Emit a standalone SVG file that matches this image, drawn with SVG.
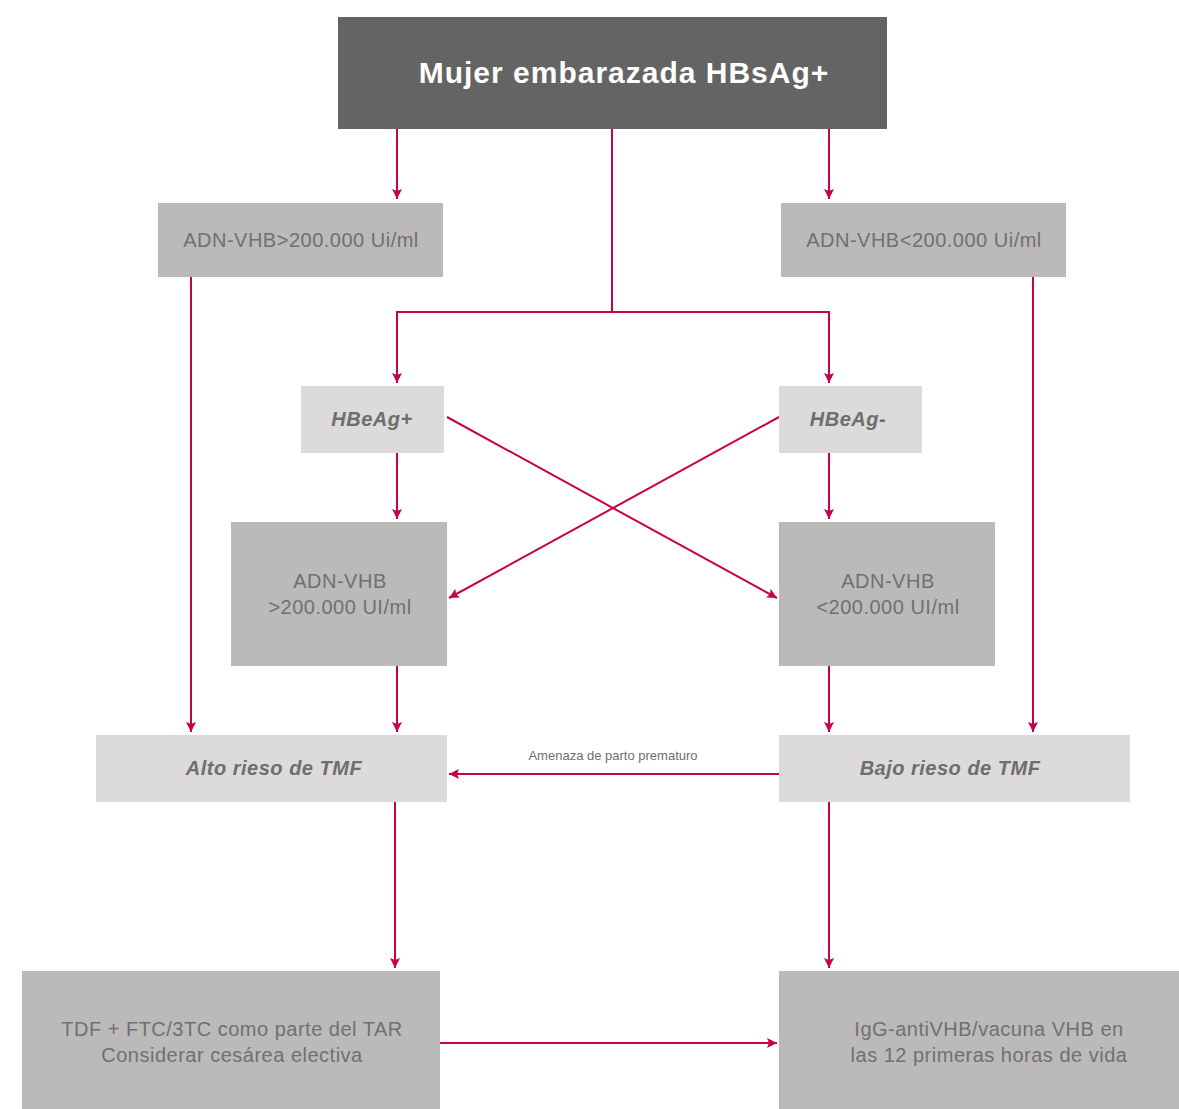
<svg xmlns="http://www.w3.org/2000/svg" width="1179" height="1109" viewBox="0 0 1179 1109">
<defs>
<marker id="ah" markerWidth="10" markerHeight="10" viewBox="0 0 10 10" refX="10" refY="5" orient="auto" markerUnits="userSpaceOnUse">
<path d="M0,0 L10,5 L0,10 L2,5 Z" fill="#c8004b"/>
</marker>
<style>
.dark{fill:#646464}
.mid{fill:#bbbab9}
.light{fill:#dcdadb}
text{font-family:"Liberation Sans",Arial,sans-serif;text-anchor:middle}
.t{fill:#707070;font-size:20px;letter-spacing:0.5px}
.ti{fill:#6e6e6e;font-size:20px;font-weight:bold;font-style:italic;letter-spacing:0.5px}
.title{fill:#ffffff;font-size:30px;font-weight:bold;letter-spacing:1px}
.lbl{fill:#6e6e6e;font-size:13px}
.c{fill:none;stroke:#c8004b;stroke-width:2}
</style>
</defs>
<rect width="1179" height="1109" fill="#ffffff"/>
<g id="connectors">
<path class="c" d="M397,129 V199" marker-end="url(#ah)"/>
<path class="c" d="M829,129 V199" marker-end="url(#ah)"/>
<path class="c" d="M612,129 V312 H397 V383" marker-end="url(#ah)"/>
<path class="c" d="M612,312 H829 V383" marker-end="url(#ah)"/>
<path class="c" d="M397,453 V519" marker-end="url(#ah)"/>
<path class="c" d="M829,453 V519" marker-end="url(#ah)"/>
<path class="c" d="M447,417 L777,598" marker-end="url(#ah)"/>
<path class="c" d="M779,417 L449,598" marker-end="url(#ah)"/>
<path class="c" d="M191,277 V732" marker-end="url(#ah)"/>
<path class="c" d="M1033,277 V732" marker-end="url(#ah)"/>
<path class="c" d="M397,666 V732" marker-end="url(#ah)"/>
<path class="c" d="M829,666 V732" marker-end="url(#ah)"/>
<path class="c" d="M779,774 H449" marker-end="url(#ah)"/>
<text class="lbl" x="613" y="760">Amenaza de parto prematuro</text>
<path class="c" d="M395,802 V968" marker-end="url(#ah)"/>
<path class="c" d="M829,802 V968" marker-end="url(#ah)"/>
<path class="c" d="M440,1043 H777" marker-end="url(#ah)"/>
</g>
<g id="n-top">
<rect class="dark" x="338" y="17" width="549" height="112"/>
<text class="title" x="624" y="83">Mujer embarazada HBsAg+</text>
</g>
<g id="n-adn-high">
<rect class="mid" x="158" y="203" width="285" height="74"/>
<text class="t" x="301" y="247">ADN-VHB&gt;200.000 Ui/ml</text>
</g>
<g id="n-adn-low">
<rect class="mid" x="781" y="203" width="285" height="74"/>
<text class="t" x="924" y="247">ADN-VHB&lt;200.000 Ui/ml</text>
</g>
<g id="n-hbeag-pos">
<rect class="light" x="301" y="386" width="143" height="67"/>
<text class="ti" x="372" y="426">HBeAg+</text>
</g>
<g id="n-hbeag-neg">
<rect class="light" x="779" y="386" width="143" height="67"/>
<text class="ti" x="848" y="426">HBeAg-</text>
</g>
<g id="n-adn2-high">
<rect class="mid" x="231" y="522" width="216" height="144"/>
<text class="t" x="340" y="588">ADN-VHB</text>
<text class="t" x="340" y="614">&gt;200.000 UI/ml</text>
</g>
<g id="n-adn2-low">
<rect class="mid" x="779" y="522" width="216" height="144"/>
<text class="t" x="888" y="588">ADN-VHB</text>
<text class="t" x="888" y="614">&lt;200.000 UI/ml</text>
</g>
<g id="n-alto">
<rect class="light" x="96" y="735" width="351" height="67"/>
<text class="ti" x="274" y="775">Alto rieso de TMF</text>
</g>
<g id="n-bajo">
<rect class="light" x="779" y="735" width="351" height="67"/>
<text class="ti" x="950" y="775">Bajo rieso de TMF</text>
</g>
<g id="n-tdf">
<rect class="mid" x="22" y="971" width="418" height="138"/>
<text class="t" x="232" y="1036">TDF + FTC/3TC como parte del TAR</text>
<text class="t" x="232" y="1062">Considerar cesárea electiva</text>
</g>
<g id="n-igg">
<rect class="mid" x="779" y="971" width="400" height="138"/>
<text class="t" x="989" y="1036">IgG-antiVHB/vacuna VHB en</text>
<text class="t" x="989" y="1062">las 12 primeras horas de vida</text>
</g>
</svg>
